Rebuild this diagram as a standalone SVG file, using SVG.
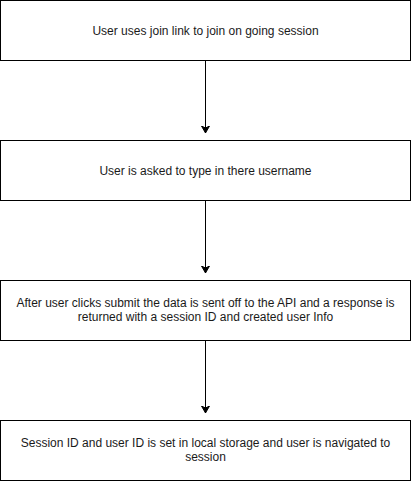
<svg xmlns="http://www.w3.org/2000/svg" width="411" height="481" viewBox="0 0 411 481">
<style>
.box{fill:#fff;stroke:#000;stroke-width:1}
.t{font-family:"Liberation Sans",Arial,sans-serif;font-size:12px;fill:#1a1a1a;text-anchor:middle}
.c{stroke:#000;stroke-width:1;fill:none}
</style>
<defs>
<marker id="ah" markerWidth="10" markerHeight="10" refX="7" refY="4" orient="auto" markerUnits="userSpaceOnUse">
<path d="M0,0 L7,4 L0,8 L2,4 Z" fill="#000" stroke="#000" stroke-width="1"/>
</marker>
</defs>
<rect width="411" height="481" fill="#fff"/>
<g id="connectors">
<path class="c" d="M205.5,60.5 V133" marker-end="url(#ah)"/>
<path class="c" d="M205.5,200.5 V273" marker-end="url(#ah)"/>
<path class="c" d="M205.5,340.5 V413" marker-end="url(#ah)"/>
</g>
<g id="n1">
<rect class="box" x="0.5" y="0.5" width="410" height="60"/>
<text class="t" x="205.5" y="34.5">User uses join link to join on going session</text>
</g>
<g id="n2">
<rect class="box" x="0.5" y="140.5" width="410" height="60"/>
<text class="t" x="205.5" y="174.5">User is asked to type in there username</text>
</g>
<g id="n3">
<rect class="box" x="0.5" y="280.5" width="410" height="60"/>
<text class="t" x="205.5" y="306.5">After user clicks submit the data is sent off to the API and a response is</text>
<text class="t" x="205.5" y="320.5">returned with a session ID and created user Info</text>
</g>
<g id="n4">
<rect class="box" x="0.5" y="420.5" width="410" height="60"/>
<text class="t" x="205.5" y="446.5">Session ID and user ID is set in local storage and user is navigated to</text>
<text class="t" x="205.5" y="460.5">session</text>
</g>
</svg>
